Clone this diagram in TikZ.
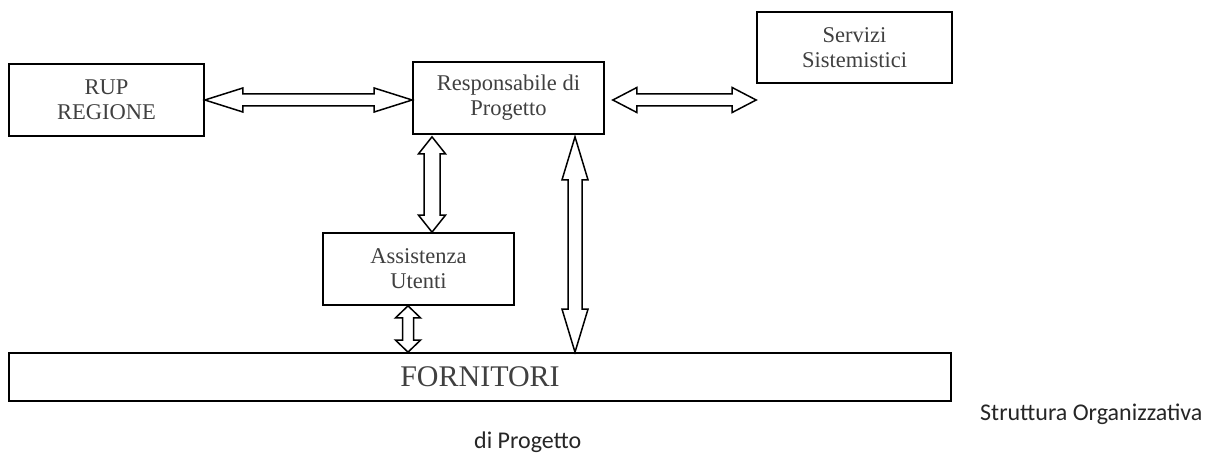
\documentclass[tikz,border=0pt]{standalone}
\usepackage{fontspec}
\setmainfont{Liberation Serif}
\newfontfamily\calib{Carlito}
\usetikzlibrary{calc}
\tikzset{
  box/.style={draw=black, line width=1.7pt, fill=white, align=center, font=\fontsize{22.5}{25}\selectfont, text=black!75, inner sep=0pt},
  arr/.style={draw=black, line width=1.5pt, fill=white, line join=miter},
  captext/.style={font=\calib\fontsize{24}{28}\selectfont, text=black!85, inner sep=0pt}
}
% horizontal double arrow: #1 left tip, #2 right tip, #3 shaft half, #4 head half, #5 head length
\newcommand{\dblH}[5]{%
\draw[arr] let \p1=(#1), \p2=(#2) in (\x1,\y1) -- (\x1+#5,\y1+#4) -- (\x1+#5,\y1+#3) -- (\x2-#5,\y1+#3) -- (\x2-#5,\y1+#4) -- (\x2,\y1) -- (\x2-#5,\y1-#4) -- (\x2-#5,\y1-#3) -- (\x1+#5,\y1-#3) -- (\x1+#5,\y1-#4) -- cycle;}
% vertical double arrow: #1 top tip, #2 bottom tip
\newcommand{\dblV}[5]{%
\draw[arr] let \p1=(#1), \p2=(#2) in (\x1,\y1) -- (\x1+#4,\y1-#5) -- (\x1+#3,\y1-#5) -- (\x1+#3,\y2+#5) -- (\x1+#4,\y2+#5) -- (\x1,\y2) -- (\x1-#4,\y2+#5) -- (\x1-#3,\y2+#5) -- (\x1-#3,\y1-#5) -- (\x1-#4,\y1-#5) -- cycle;}
\begin{document}
\begin{tikzpicture}[x=1pt,y=1pt]
\useasboundingbox[fill=white] (0,0) rectangle (1220,-454);
\node[box, minimum width=195pt, minimum height=72pt] (rup) at (106.5,-100) {RUP\\REGIONE};
\node[box, minimum width=191pt, minimum height=72pt] (resp) at (508.5,-98) {Responsabile di\\Progetto};
\node[box, minimum width=195pt, minimum height=71pt] (serv) at (854.5,-47.5) {Servizi\\Sistemistici};
\node[box, minimum width=191pt, minimum height=72pt] (assist) at (418.5,-269) {Assistenza\\Utenti};
\node[box, minimum width=942pt, minimum height=48pt, font=\fontsize{30}{34}\selectfont] (forn) at (480,-377) {FORNITORI};
\node[captext, anchor=base west] (cap1) at (980,-420) {Struttura Organizzativa};
\node[captext, anchor=base west] (cap2) at (474,-448) {di Progetto};
% arrows
\coordinate (a1l) at (rup.east);
\coordinate (a1r) at (resp.west |- a1l);
\dblH{a1l}{a1r}{6pt}{12pt}{38pt}
\coordinate (a2l) at ($(resp.east |- rup.east)+(8,0)$);
\coordinate (a2r) at (serv.west |- a2l);
\dblH{a2l}{a2r}{6pt}{12.5pt}{24pt}
\coordinate (a3t) at ($(resp.south)+(-76.5,-2)$);
\coordinate (a3b) at (a3t |- assist.north);
\dblV{a3t}{a3b}{8pt}{13.5pt}{17pt}
\coordinate (a4t) at ($(assist.south)+(-10.5,0)$);
\coordinate (a4b) at (a4t |- forn.north);
\dblV{a4t}{a4b}{5.5pt}{12.5pt}{12pt}
\coordinate (a5t) at ($(resp.south)+(66.5,-2)$);
\coordinate (a5b) at (a5t |- forn.north);
\dblV{a5t}{a5b}{7pt}{13pt}{43pt}
\end{tikzpicture}
\end{document}
